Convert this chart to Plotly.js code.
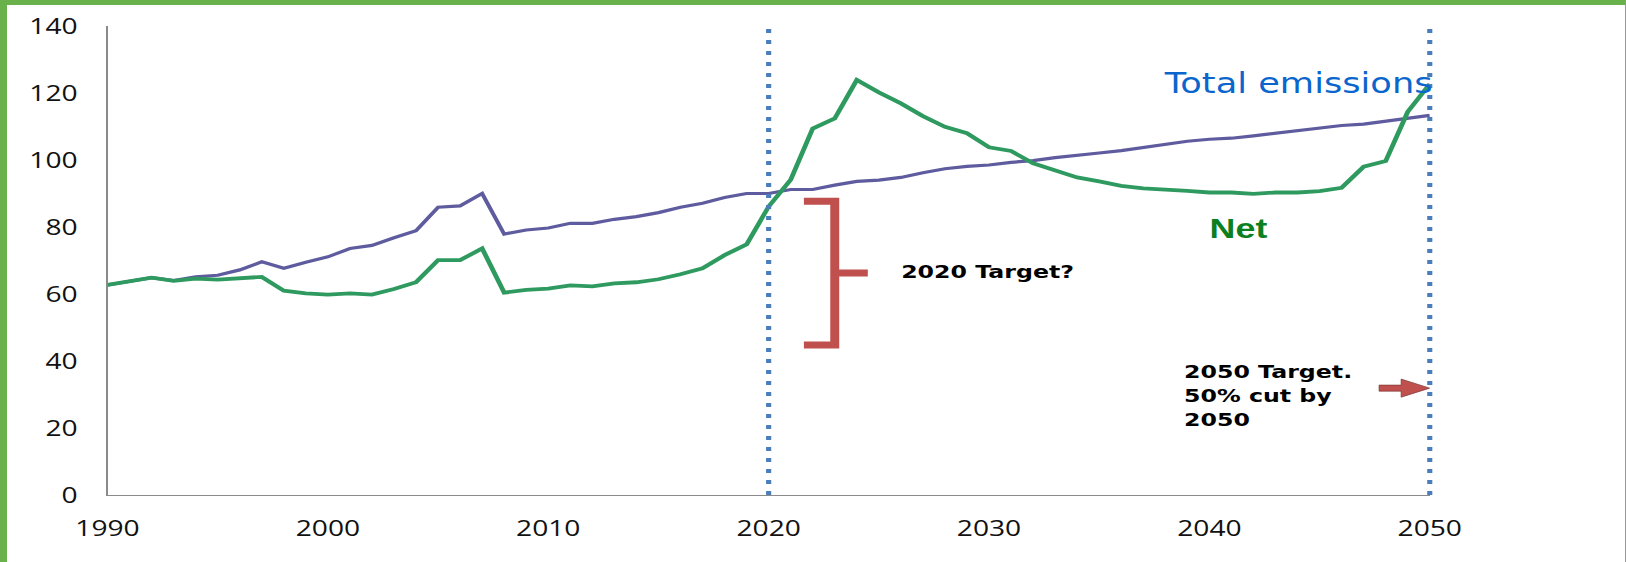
<!DOCTYPE html>
<html>
<head>
<meta charset="utf-8">
<script src="https://cdn.plot.ly/plotly-3.0.1.min.js"></script>
<style>
  html, body { margin: 0; padding: 0; background: #ffffff; overflow: hidden; }
  #wrap { position: relative; width: 1626px; height: 562px; overflow: hidden; }
  /* the chart is laid out narrower and widened on screen */
  #chart { position: absolute; left: 0; top: 0; transform: scaleX(1.28); transform-origin: 0 0; }
  #frame {
    position: absolute; left: 0; top: 0; width: 1626px; height: 562px; box-sizing: border-box;
    border-top: 5px solid #69b14b; border-left: 7px solid #69b14b; border-right: 1px solid #9a9a9a;
    pointer-events: none;
  }
</style>
</head>
<body>
<div id="wrap">
  <div id="chart"></div>
  <div id="frame"></div>
</div>
<script>
// Years on the horizontal axis
const years = [
  1990, 1991, 1992, 1993, 1994, 1995, 1996, 1997, 1998, 1999,
  2000, 2001, 2002, 2003, 2004, 2005, 2006, 2007, 2008, 2009,
  2010, 2011, 2012, 2013, 2014, 2015, 2016, 2017, 2018, 2019,
  2020, 2021, 2022, 2023, 2024, 2025, 2026, 2027, 2028, 2029,
  2030, 2031, 2032, 2033, 2034, 2035, 2036, 2037, 2038, 2039,
  2040, 2041, 2042, 2043, 2044, 2045, 2046, 2047, 2048, 2049,
  2050
];

// Total emissions
const totalEmissions = [
  62.7, 63.7, 64.9, 64.0, 65.1, 65.6, 67.2, 69.6, 67.7, 69.5,
  71.1, 73.6, 74.5, 76.8, 78.9, 85.9, 86.3, 90.0, 77.9, 79.1,
  79.7, 81.1, 81.1, 82.3, 83.1, 84.3, 85.9, 87.1, 88.8, 90.0,
  90.0, 91.2, 91.2, 92.5, 93.6, 94.0, 94.8, 96.2, 97.4, 98.1,
  98.5, 99.3, 99.8, 100.7, 101.5, 102.1, 102.8, 103.8, 104.8, 105.6,
  106.2, 106.5, 107.2, 108.0, 108.8, 109.6, 110.3, 110.7, 111.5, 112.3,
  113.3
];

// Net emissions
const netEmissions = [
  62.7, 63.7, 64.9, 63.9, 64.6, 64.3, 64.7, 65.1, 61.0, 60.2,
  59.8, 60.2, 59.8, 61.5, 63.5, 70.1, 70.1, 73.6, 60.4, 61.2,
  61.6, 62.6, 62.3, 63.2, 63.5, 64.4, 65.9, 67.7, 71.6, 74.8,
  86.1, 94.1, 109.4, 112.4, 123.9, 120.2, 116.9, 113.1, 109.9, 108.0,
  103.8, 102.7, 99.0, 96.8, 94.8, 93.6, 92.3, 91.5, 91.2, 90.8,
  90.3, 90.3, 89.9, 90.3, 90.3, 90.7, 91.7, 98.0, 99.7, 114.4,
  122.7
];

// Axis ticks
const xTickVals = [1990, 2000, 2010, 2020, 2030, 2040, 2050];
const xTickText = ['1990', '2000', '2010', '2020', '2030', '2040', '2050'];
const yTickVals = [0, 20, 40, 60, 80, 100, 120, 140];
const yTickText = ['0', '20', '40', '60', '80', '100', '120', '140'];
const xRange = [1990, 2050];
const yRange = [0, 140];

// Target years marked with dotted lines
const targetYears = [2020, 2050];
const targetLineTop = 140.5;

// Bracket spanning the possible 2020 target range
const bracketLeft = 2021.6, bracketSpine = 2023.0, bracketTip = 2024.5;
const bracketTop = 87.7, bracketMid = 66.3, bracketBottom = 44.8;

// Arrow pointing at the 2050 target level
const arrowStart = 2047.7, arrowHeadStart = 2048.7, arrowEnd = 2050;
const arrowLevel = 31.9, arrowShaftHalf = 0.9, arrowHeadHalf = 2.7;

const tickFont = { family: 'Open Sans, DejaVu Sans, sans-serif', size: 22, color: '#111111' };

const traces = [
  {
    x: years, y: totalEmissions, type: 'scatter', mode: 'lines', name: 'Total emissions',
    line: { color: '#5e5b9f', width: 3.2 }, hoverinfo: 'skip'
  },
  {
    x: years, y: netEmissions, type: 'scatter', mode: 'lines', name: 'Net',
    line: { color: '#2f9a5f', width: 3.8 }, hoverinfo: 'skip'
  }
];

// Dotted target lines are placed in paper units so the one on the right edge is not clipped
const toPaperX = v => (v - xRange[0]) / (xRange[1] - xRange[0]);
const toPaperY = v => (v - yRange[0]) / (yRange[1] - yRange[0]);

const shapes = targetYears.map(yr => ({
  type: 'line', xref: 'paper', yref: 'paper',
  x0: toPaperX(yr), x1: toPaperX(yr), y0: toPaperY(0), y1: toPaperY(targetLineTop),
  line: { color: '#4a7ebb', width: 4, dash: '4px,7px' }, layer: 'above'
}));

shapes.push({
  type: 'path', xref: 'x', yref: 'y',
  path: `M ${bracketLeft},${bracketTop} L ${bracketSpine},${bracketTop} L ${bracketSpine},${bracketBottom} L ${bracketLeft},${bracketBottom}` +
        ` M ${bracketSpine},${bracketMid} L ${bracketTip},${bracketMid}`,
  line: { color: '#c0504d', width: 7 }, layer: 'above'
});

shapes.push({
  type: 'path', xref: 'x', yref: 'y',
  path: `M ${arrowStart},${arrowLevel - arrowShaftHalf} L ${arrowHeadStart},${arrowLevel - arrowShaftHalf}` +
        ` L ${arrowHeadStart},${arrowLevel - arrowHeadHalf} L ${arrowEnd},${arrowLevel}` +
        ` L ${arrowHeadStart},${arrowLevel + arrowHeadHalf} L ${arrowHeadStart},${arrowLevel + arrowShaftHalf}` +
        ` L ${arrowStart},${arrowLevel + arrowShaftHalf} Z`,
  fillcolor: '#c0504d', line: { color: '#7a3533', width: 0.6 }, layer: 'above'
});

const annotations = [
  {
    x: 2044.0, y: 123.0, xref: 'x', yref: 'y', text: 'Total emissions', showarrow: false,
    xanchor: 'center', yanchor: 'middle',
    font: { family: 'DejaVu Sans, sans-serif', size: 27.5, color: '#0a66cc' }
  },
  {
    x: 2041.3, y: 79.6, xref: 'x', yref: 'y', text: 'Net', showarrow: false,
    xanchor: 'center', yanchor: 'middle',
    font: { family: 'Liberation Sans, Arial, sans-serif', size: 28, color: '#0b8020', weight: 700 }
  },
  {
    x: 2025.9, y: 66.8, xref: 'x', yref: 'y', text: '2020 Target?', showarrow: false,
    xanchor: 'left', yanchor: 'middle',
    font: { family: 'DejaVu Sans, sans-serif', size: 18.5, color: '#000000', weight: 700 }
  },
  {
    x: 2038.75, y: 29.6, xref: 'x', yref: 'y', text: '2050 Target.<br>50% cut by<br>2050', showarrow: false,
    xanchor: 'left', yanchor: 'middle', align: 'left',
    font: { family: 'DejaVu Sans, sans-serif', size: 18.5, color: '#000000', weight: 700 }
  }
];

const layout = {
  width: 1270, height: 562, autosize: false,
  margin: { l: 84, r: 153, t: 26, b: 67, pad: 0 },
  paper_bgcolor: '#ffffff', plot_bgcolor: '#ffffff',
  showlegend: false, hovermode: false,
  xaxis: {
    range: xRange, tickmode: 'array', tickvals: xTickVals, ticktext: xTickText,
    showgrid: false, zeroline: false, showline: true, linecolor: '#8a8a8a', linewidth: 1,
    ticks: '', ticklabelstandoff: 14, tickfont: tickFont
  },
  yaxis: {
    range: yRange, tickmode: 'array', tickvals: yTickVals, ticktext: yTickText,
    showgrid: false, zeroline: false, showline: true, linecolor: '#8a8a8a', linewidth: 1,
    ticks: '', ticklabelstandoff: 18, tickfont: tickFont
  },
  shapes: shapes,
  annotations: annotations
};

Plotly.newPlot('chart', traces, layout, { displayModeBar: false, staticPlot: true });
</script>
</body>
</html>
